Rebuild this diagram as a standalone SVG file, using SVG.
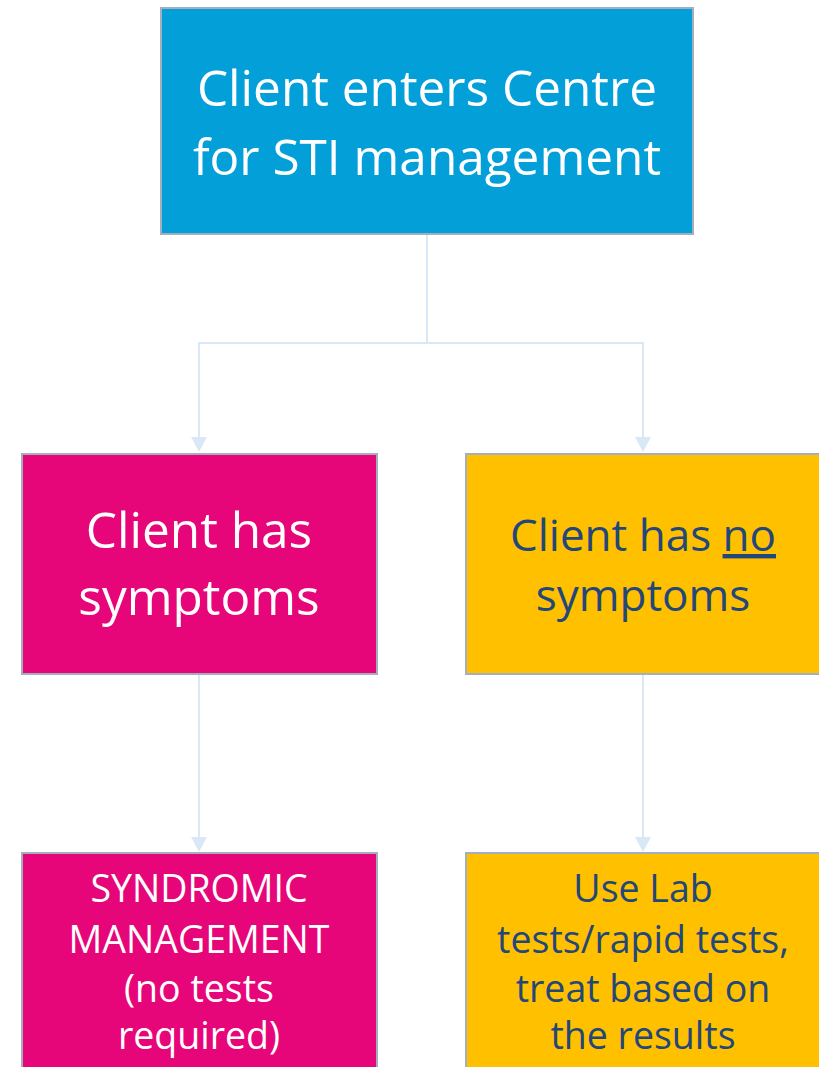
<svg xmlns="http://www.w3.org/2000/svg" width="819" height="1067" viewBox="0 0 819 1067">
<style>
.box{stroke:#A3AFBF;stroke-width:2}
.blue{fill:#039FD9}
.pink{fill:#E6067A}
.gold{fill:#FFC000}
.t{font-family:"Open Sans","Liberation Sans",sans-serif;text-anchor:middle}
.w{fill:#FFFFFF}
.d{fill:#24477A}
.big{font-size:49.5px}
.mid{font-size:44px}
.sm{font-size:37.5px}
.conn{fill:none;stroke:#DAE7F7;stroke-width:2}
.ah{fill:#DAE7F7}
</style>
<g id="connectors">
<path class="conn" d="M427 234 V343 H199 V440"/>
<path class="conn" d="M427 343 H643 V440"/>
<path class="conn" d="M199 674 V840"/>
<path class="conn" d="M643 674 V840"/>
<path class="ah" d="M191 437 L207 437 L199 452 Z"/>
<path class="ah" d="M635 437 L651 437 L643 452 Z"/>
<path class="ah" d="M191 837 L207 837 L199 852 Z"/>
<path class="ah" d="M635 837 L651 837 L643 852 Z"/>
</g>
<g id="start">
<rect class="box blue" x="161" y="8" width="532" height="226"/>
<text class="t w big" x="427" y="106">Client enters Centre</text>
<text class="t w big" x="427" y="175">for STI management</text>
</g>
<g id="symptoms">
<rect class="box pink" x="22" y="454" width="355" height="220"/>
<text class="t w big" x="199" y="548">Client has</text>
<text class="t w big" x="199" y="615">symptoms</text>
</g>
<g id="nosymptoms">
<rect class="box gold" x="466" y="454" width="360" height="220"/>
<text class="t d mid" x="643" y="551">Client has <tspan text-decoration="underline">no</tspan></text>
<text class="t d mid" x="643" y="611">symptoms</text>
</g>
<g id="syndromic">
<rect class="box pink" x="22" y="853" width="355" height="230"/>
<text class="t w sm" x="199" y="902">SYNDROMIC</text>
<text class="t w sm" x="199" y="953">MANAGEMENT</text>
<text class="t w sm" x="199" y="1002">(no tests</text>
<text class="t w sm" x="199" y="1049">required)</text>
</g>
<g id="labtests">
<rect class="box gold" x="466" y="853" width="360" height="230"/>
<text class="t d sm" x="643" y="902">Use Lab</text>
<text class="t d sm" x="643" y="953">tests/rapid tests,</text>
<text class="t d sm" x="643" y="1002">treat based on</text>
<text class="t d sm" x="643" y="1049">the results</text>
</g>
</svg>
